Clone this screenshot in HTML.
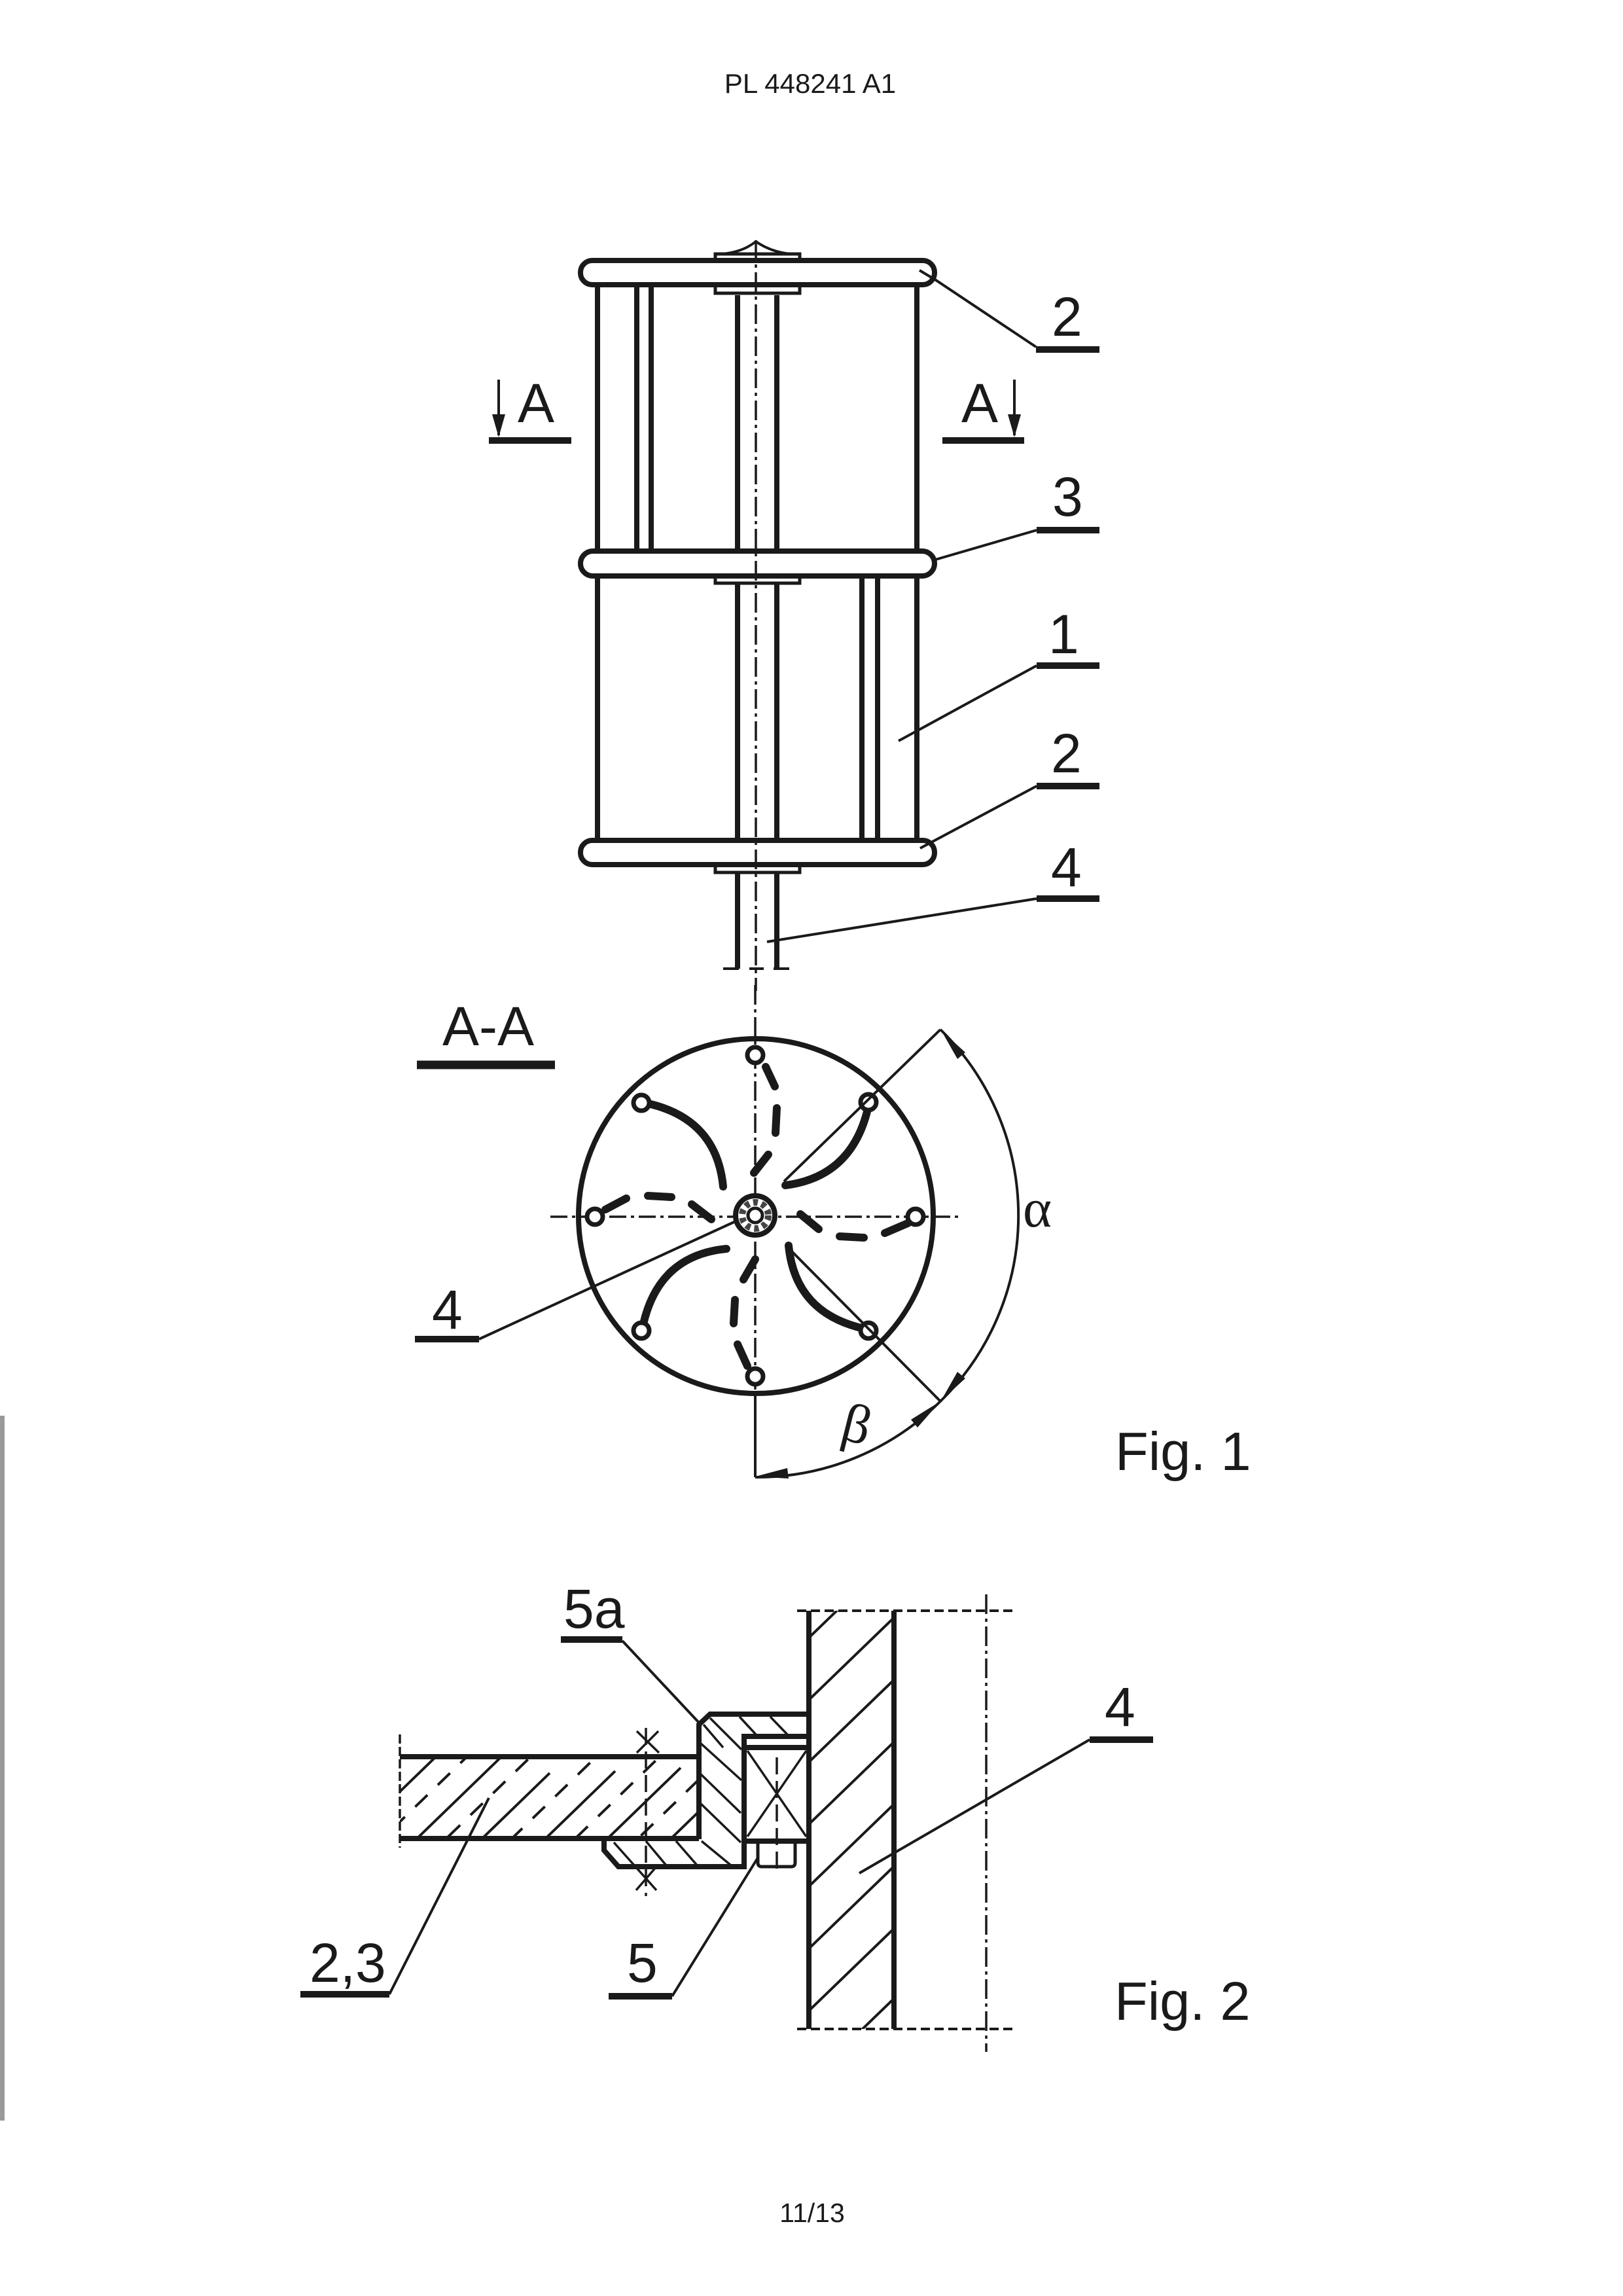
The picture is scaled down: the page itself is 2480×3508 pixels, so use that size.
<!DOCTYPE html>
<html><head><meta charset="utf-8"><style>
html,body{margin:0;padding:0;background:#fff}
svg{display:block}
text{font-family:"Liberation Sans",sans-serif;fill:#1a1a1a}
</style></head><body>
<svg xmlns="http://www.w3.org/2000/svg" width="2480" height="3508" viewBox="0 0 2480 3508">
<defs>
<clipPath id="pl"><rect x="611" y="2684" width="457" height="125"/></clipPath>
<clipPath id="sh"><rect x="1236" y="2461" width="130" height="639"/></clipPath>
</defs>
<rect width="2480" height="3508" fill="#fff"/>
<rect x="0" y="2163" width="7" height="1077" fill="#999"/>
<text x="1238" y="142" font-size="42" text-anchor="middle">PL 448241 A1</text>
<text x="1241" y="3395" font-size="41" text-anchor="middle">11/13</text>

<!-- Fig 1 top -->
<g fill="none" stroke="#1a1a1a" stroke-width="8">
<path d="M913 436V839M913 880V1281M1401 436V839M1401 880V1281"/>
<path d="M973 436V839M995 436V839"/>
<path d="M1317 880V1281M1341 880V1281"/>
<path d="M1127 451V839M1187 451V839M1127 892V1281M1187 892V1281M1127 1335V1480M1187 1335V1480"/>
<path d="M1105 1480H1129M1182 1480H1206M1145 1480H1167" stroke-width="4"/>
<rect x="887" y="398" width="541" height="37" rx="18" fill="#fff"/>
<rect x="887" y="842" width="541" height="38" rx="19" fill="#fff"/>
<rect x="887" y="1284" width="541" height="37" rx="18" fill="#fff"/>
<path d="M1093 397V388H1222V397M1093 436V448H1222V436M1093 880V891H1222V880M1093 1321V1333H1222V1321" stroke-width="5"/>
<path d="M1104 388Q1135 385 1155 369Q1178 385 1208 388" stroke-width="4"/>
<path d="M1155 367V1514" stroke-width="3.5" stroke-dasharray="30 7 5 7"/>
<g stroke-width="4">
<path d="M1405 413L1430 428L1583 530M1426 856L1584 810M1373 1132L1584 1017M1406 1296L1584 1201M1172 1439L1584 1373"/>
</g>
<g stroke-width="10">
<path d="M1583 534H1680M1584 810H1680M1584 1017H1680M1584 1201H1680M1584 1373H1680M747 673H873M1440 673H1565"/>
</g>
<path d="M762 580V665M1550 580V665" stroke-width="4"/>
</g>
<polygon points="752,633 772,633 762,668" fill="#1a1a1a"/>
<polygon points="1540,633 1560,633 1550,668" fill="#1a1a1a"/>
<g font-size="84">
<text x="1607" y="513">2</text>
<text x="1608" y="788">3</text>
<text x="1602" y="998">1</text>
<text x="1606" y="1180">2</text>
<text x="1606" y="1354">4</text>
<text x="791" y="645">A</text>
<text x="1469" y="645">A</text>
<text x="676" y="1597">A-A</text>
<text x="660" y="2030">4</text>
<text x="1704" y="2246" font-size="83">Fig. 1</text>
</g>
<text x="1563" y="1874" font-size="84" style="font-family:'Liberation Serif',serif">α</text>
<text x="0" y="0" font-size="84" transform="translate(1282 2198) rotate(14)" style="font-family:'Liberation Serif',serif">β</text>

<!-- A-A section -->
<g fill="none" stroke="#1a1a1a">
<circle cx="1155" cy="1858" r="271" stroke-width="8"/>
<path d="M841 1859H1471" stroke-width="3.5" stroke-dasharray="26 7 5 7"/>
<path d="M1154 1505V2130" stroke-width="3.5" stroke-dasharray="30 7 5 7"/>
<path d="M1154 2130V2257" stroke-width="4"/>
<g stroke-width="12" stroke-linecap="round">
<path d="M990 1686Q1095 1710 1105 1813"/>
<path d="M1327 1690Q1303 1798 1200 1811"/>
<path d="M1320 2030Q1215 2006 1205 1903"/>
<path d="M983 2023Q1007 1918 1110 1908"/>
<path d="M1170 1630L1184 1660M1187 1693L1185 1731M1174 1764L1152 1792"/>
<path d="M1223 1855L1251 1878M1283 1889L1320 1891M1352 1884L1387 1869"/>
<path d="M1154 1924L1136 1955M1123 1986L1121 2022M1127 2054L1142 2087"/>
<path d="M957 1831L925 1848M990 1827L1026 1829M1057 1840L1087 1863"/>
</g>
<g stroke-width="7" fill="#fff">
<circle cx="1154" cy="1612" r="12"/><circle cx="1154" cy="2103" r="12"/>
<circle cx="909" cy="1859" r="12"/><circle cx="1399" cy="1859" r="12"/>
<circle cx="1327" cy="1684" r="12"/><circle cx="980" cy="1685" r="12"/>
<circle cx="980" cy="2033" r="12"/><circle cx="1327" cy="2033" r="12"/>
</g>
<circle cx="1154" cy="1857" r="30" stroke-width="8" fill="#fff"/>
<circle cx="1154" cy="1857" r="20" stroke-width="10" stroke-dasharray="7 6" stroke="#444"/>
<circle cx="1154" cy="1857" r="11" stroke-width="5"/>
<g stroke-width="4">
<path d="M1437 1573L1198 1805M1437 2141L1205 1907M732 2046L1124 1866"/>
<path d="M1437 1573A398 398 0 0 1 1437 2141A398 398 0 0 1 1154 2257"/>
</g>
<path d="M637 1627H848" stroke-width="13"/>
<path d="M634 2046H732" stroke-width="10"/>
</g>
<g fill="#1a1a1a">
<polygon points="1438,1574 1475,1608 1463,1618"/>
<polygon points="1438,2140 1463,2096 1475,2106"/>
<polygon points="1437,2141 1392,2169 1402,2181"/>
<polygon points="1154,2256 1203,2243 1205,2259"/>
</g>

<!-- Fig 2 -->
<g fill="none" stroke="#1a1a1a">
<g clip-path="url(#pl)" stroke-width="4">
<path d="M600 2748L790 2564M600 2845L790 2661M650 2893L840 2709M750 2890L940 2706M850 2885L1040 2701M950 2882L1140 2698"/>
<path stroke-dasharray="26 22" d="M600 2794L790 2610M650 2840L840 2656M745 2845L935 2661M845 2842L1035 2658M945 2838L1135 2654"/>
</g>
<g clip-path="url(#sh)" stroke-width="4">
<path d="M1230 2508L1380 2363M1230 2603L1380 2458M1230 2698L1380 2553M1230 2793L1380 2648M1230 2888L1380 2743M1230 2983L1380 2838M1230 3078L1380 2933M1230 3185L1380 3040"/>
</g>
<g stroke-width="3.5">
<path d="M1085 2625L1133 2673M1075 2635L1105 2670M1070 2663L1133 2720M1070 2710L1132 2770M1070 2755L1132 2815M1072 2813L1117 2850M1130 2623L1155 2650M1177 2623L1203 2650M1033 2813L1067 2852M987 2813L1018 2850M938 2815L1003 2888M972 2888L1003 2852"/>
<path d="M1142 2675L1232 2806M1142 2806L1232 2675"/>
<path d="M973 2645L1007 2678M1006 2645L973 2678"/>
<path d="M987 2640V2897" stroke-dasharray="26 10"/>
<path d="M1187 2685V2860" stroke-dasharray="26 10"/>
</g>
<g stroke-width="8">
<path d="M611 2684H1068M611 2809H1068"/>
<path d="M1236 2461V3100M1366 2461V3100"/>
<path d="M1236 2619H1085L1068 2635V2810"/>
<path d="M1236 2653H1137V2852H945L923 2827V2813"/>
<path d="M1140 2670H1236M1137 2813H1236"/>
<path d="M1158 2813V2846Q1158 2852 1164 2852H1209Q1215 2852 1215 2846V2813" stroke-width="5"/>
</g>
<path d="M611 2650V2823" stroke-width="3.5" stroke-dasharray="14 5"/>
<path d="M1218 2461H1550M1218 3100H1550" stroke-width="4" stroke-dasharray="14 7"/>
<path d="M1507 2436V3135" stroke-width="3.5" stroke-dasharray="30 7 5 7"/>
<g stroke-width="4">
<path d="M951 2507L1068 2632M1665 2658L1313 2862M595 3047L747 2747M1027 3050L1157 2840"/>
</g>
<g stroke-width="10">
<path d="M857 2505H951M1665 2658H1762M459 3047H595M930 3050H1027"/>
</g>
</g>
<g font-size="84">
<text x="861" y="2487">5a</text>
<text x="1688" y="2637">4</text>
<text x="473" y="3028">2,3</text>
<text x="958" y="3028">5</text>
<text x="1703" y="3086" font-size="83">Fig. 2</text>
</g>
</svg>
</body></html>
